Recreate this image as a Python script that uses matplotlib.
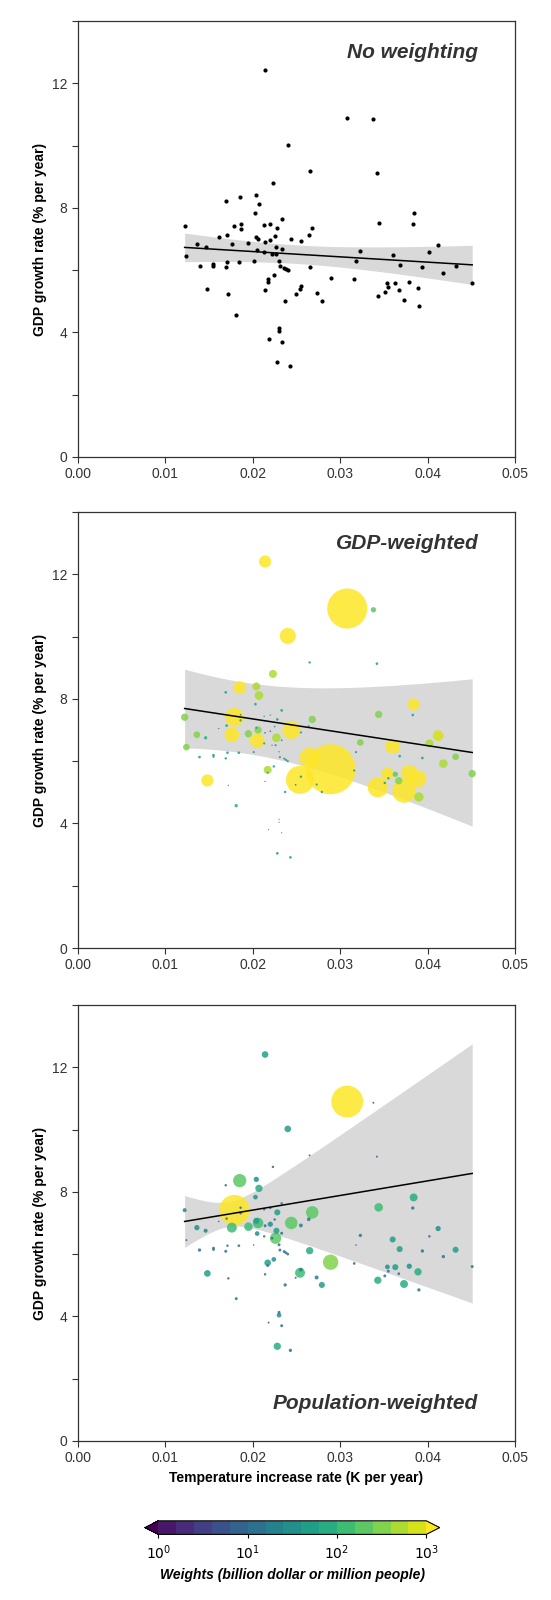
import numpy as np
import matplotlib
matplotlib.use("Agg")
import matplotlib.pyplot as plt
from matplotlib.colors import BoundaryNorm
from matplotlib.ticker import MultipleLocator, NullLocator

plt.rcParams['font.family'] = ['Liberation Sans', 'DejaVu Sans']

# temperature increase rate (K per year) and GDP growth rate (% per year), one entry per country
temp_rate = [0.0122, 0.0124, 0.0136, 0.0139, 0.0146, 0.0148, 0.0155, 0.0155, 0.0161, 0.0169,
             0.0169, 0.0170, 0.0171, 0.0172, 0.0176, 0.0179, 0.0181, 0.0184, 0.0185, 0.0186,
             0.0186, 0.0195, 0.0201, 0.0203, 0.0204, 0.0204, 0.0205, 0.0206, 0.0207, 0.0213,
             0.0213, 0.0214, 0.0214, 0.0214, 0.0217, 0.0217, 0.0218, 0.0220, 0.0220, 0.0222,
             0.0223, 0.0224, 0.0225, 0.0226, 0.0227, 0.0228, 0.0228, 0.0230, 0.0230, 0.0230,
             0.0231, 0.0233, 0.0233, 0.0233, 0.0236, 0.0237, 0.0238, 0.0240, 0.0240, 0.0243,
             0.0244, 0.0249, 0.0254, 0.0255, 0.0255, 0.0264, 0.0265, 0.0265, 0.0268, 0.0273,
             0.0279, 0.0289, 0.0308, 0.0316, 0.0318, 0.0323, 0.0338, 0.0342, 0.0343, 0.0344,
             0.0351, 0.0354, 0.0355, 0.0360, 0.0363, 0.0367, 0.0368, 0.0373, 0.0379, 0.0383,
             0.0384, 0.0389, 0.0390, 0.0394, 0.0402, 0.0412, 0.0418, 0.0432, 0.0451]
gdp_growth = [7.41, 6.45, 6.85, 6.13, 6.75, 5.38, 6.19, 6.14, 7.05, 8.21,
              6.09, 7.14, 6.27, 5.22, 6.85, 7.41, 4.57, 6.27, 8.36, 7.49,
              7.31, 6.88, 6.29, 7.83, 8.40, 7.07, 6.66, 7.00, 8.11, 7.44,
              6.57, 6.91, 5.35, 12.41, 5.72, 5.63, 3.80, 7.48, 6.96, 6.51,
              8.80, 5.83, 7.11, 6.51, 6.75, 7.34, 3.04, 6.30, 4.04, 4.13,
              6.13, 7.63, 3.70, 6.67, 6.08, 5.01, 6.04, 10.02, 6.00, 2.91,
              7.00, 5.24, 5.40, 6.92, 5.50, 7.12, 9.17, 6.11, 7.34, 5.25,
              5.01, 5.74, 10.90, 5.70, 6.29, 6.60, 10.86, 9.13, 5.16, 7.50,
              5.30, 5.59, 5.45, 6.47, 5.58, 5.37, 6.16, 5.04, 5.61, 7.48,
              7.82, 5.43, 4.85, 6.10, 6.57, 6.82, 5.92, 6.14, 5.60]
# GDP (billion dollar) and population (million people)
gdp_weight = [360, 300, 300, 48, 75, 1000, 48, 30, 12, 48,
              40, 48, 48, 12, 1450, 2350, 75, 48, 1080, 20,
              40, 360, 30, 48, 430, 30, 1450, 360, 500, 12,
              30, 20, 12, 1000, 430, 20, 10, 12, 20, 12,
              430, 40, 20, 30, 500, 48, 48, 12, 10, 10,
              30, 48, 10, 20, 30, 40, 30, 1730, 30, 48,
              2200, 20, 5300, 30, 40, 30, 40, 2700, 360, 30,
              40, 16900, 10800, 30, 30, 300, 190, 48, 2700, 360,
              40, 1000, 40, 1450, 190, 360, 48, 3700, 1900, 48,
              1000, 1900, 600, 48, 430, 770, 500, 300, 360]
pop_weight = [22, 5, 38, 15, 22, 60, 12, 8, 3, 8,
              12, 8, 8, 8, 135, 1270, 12, 10, 240, 8,
              8, 100, 3, 30, 38, 50, 30, 150, 73, 8,
              8, 12, 8, 60, 60, 10, 5, 8, 38, 10,
              8, 30, 8, 175, 50, 50, 73, 12, 30, 12,
              12, 8, 12, 12, 12, 15, 10, 60, 10, 15,
              215, 5, 135, 20, 20, 20, 5, 73, 215, 22,
              50, 320, 1380, 10, 3, 15, 5, 5, 73, 100,
              12, 30, 12, 50, 50, 10, 50, 86, 38, 15,
              86, 73, 15, 15, 8, 38, 15, 50, 12]

x = np.array(temp_rate)
y = np.array(gdp_growth)


def wls_band(x, y, w):
    w = np.asarray(w, float)
    w = w / w.sum()
    X = np.column_stack([np.ones_like(x), x])
    A = np.linalg.inv(X.T @ (w[:, None] * X))
    beta = A @ X.T @ (w * y)
    r = y - X @ beta
    meat = X.T @ ((w ** 2 * r ** 2)[:, None] * X)
    cov = A @ meat @ A * len(x) / (len(x) - 2)
    xs = np.linspace(x.min(), x.max(), 200)
    Xs = np.column_stack([np.ones_like(xs), xs])
    fit = Xs @ beta
    se = np.sqrt(np.einsum('ij,jk,ik->i', Xs, cov, Xs))
    return xs, fit, 1.96 * se


levels = 10 ** np.arange(0, 3.01, 0.2)
cmap = plt.get_cmap('viridis')
norm = BoundaryNorm(levels, cmap.N, extend='both')

fig = plt.figure(figsize=(5.51, 16), dpi=100)
bottoms = [0.7144, 0.4075, 0.0994]
titles = ['No weighting', 'GDP-weighted', 'Population-weighted']
weights = [None, gdp_weight, pop_weight]
scales = [None, 0.077, 0.38]

for i in range(3):
    ax = fig.add_axes([0.1416, bottoms[i], 0.7931, 0.2725])
    w = np.ones_like(x) if weights[i] is None else np.array(weights[i], float)
    xs, fit, half = wls_band(x, y, w)
    ax.fill_between(xs, fit - half, fit + half, color='#d9d9d9', lw=0, zorder=1)
    if weights[i] is None:
        ax.scatter(x, y, s=9, color='black', lw=0, zorder=2)
    else:
        order = np.argsort(-w)
        ax.scatter(x[order], y[order], s=w[order] * scales[i], c=w[order],
                   cmap=cmap, norm=norm, lw=0, alpha=0.85, zorder=2)
    ax.plot(xs, fit, color='black', lw=1.1, zorder=3)
    ax.set_xlim(0, 0.05)
    ax.set_ylim(0, 14)
    ax.xaxis.set_major_locator(MultipleLocator(0.01))
    ax.xaxis.set_major_formatter(plt.FuncFormatter(lambda v, p: f'{v:.2f}'))
    ax.yaxis.set_major_locator(MultipleLocator(4))
    ax.yaxis.set_minor_locator(MultipleLocator(2))
    ax.tick_params(which='both', direction='out', length=4, width=0.8,
                   labelsize=10, colors='#333333')
    for sp in ax.spines.values():
        sp.set_color('#333333')
        sp.set_linewidth(0.9)
    ax.set_ylabel('GDP growth rate (% per year)', fontsize=10, fontweight='bold')
    ty = 1.2 if i == 2 else 13.0
    ax.text(0.0458, ty, titles[i], ha='right', va='center', fontsize=15,
            fontweight='bold', style='italic', color='#333333')
    if i == 2:
        ax.set_xlabel('Temperature increase rate (K per year)', fontsize=10,
                      fontweight='bold')

cax = fig.add_axes([0.263, 0.041, 0.535, 0.0085])
sm = plt.cm.ScalarMappable(norm=norm, cmap=cmap)
cb = fig.colorbar(sm, cax=cax, orientation='horizontal', extend='both',
                  extendfrac=0.05)
cax.set_xscale('log')
cb.set_ticks([1, 10, 100, 1000])
cb.set_ticklabels(['$10^0$', '$10^1$', '$10^2$', '$10^3$'])
cax.xaxis.set_minor_locator(NullLocator())
cb.ax.tick_params(labelsize=10, length=3)
cb.set_label('Weights (billion dollar or million people)', fontsize=10,
             fontweight='bold', style='italic')

fig.savefig('out.png', dpi=100)
